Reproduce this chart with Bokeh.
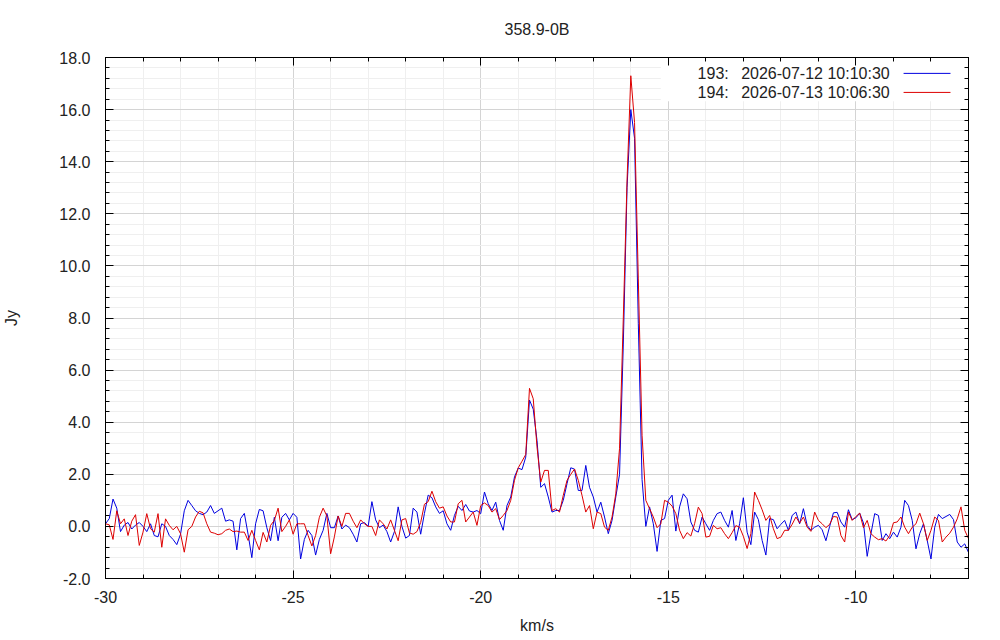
from bokeh.plotting import figure
from bokeh.models import (Range1d, SingleIntervalTicker, LinearAxis, PrintfTickFormatter,
                          Label, BoxAnnotation, Arrow, ColumnDataSource)
from bokeh.embed import file_html
from bokeh.resources import INLINE

# ---------------- data ----------------
title_text = "358.9-0B"
x_label = "km/s"
y_label = "Jy"
scan_ids = ["193:", "194:"]
scan_times = ["2026-07-12 10:10:30", "2026-07-13 10:06:30"]
series_colors = ["#0000e0", "#dd0000"]

v_start = -30.0   # first channel velocity (km/s)
v_step = 0.1      # channel spacing (km/s)

# flux density of scan 193 (Jy), one row per km/s starting at -30
flux_193 = [
    0.1, 0.3, 1.05, 0.7, -0.2, 0.05, 0.15, -0.1, 0.05, 0.15,
    0.0, -0.2, 0.1, -0.35, -0.4, 0.1, 0.0, -0.35, -0.5, -0.7,
    -0.3, 0.6, 1.0, 0.8, 0.6, 0.5, 0.45, 0.55, 0.8, 0.5,
    0.6, 0.7, 0.2, 0.25, 0.2, -0.9, 0.3, 0.5, -0.3, -1.2,
    0.1, 0.65, 0.6, -0.05, -0.55, 0.35, -0.55, 0.35, 0.5, 0.25,
    0.5, 0.35, -1.25, -0.5, -0.15, -0.35, -1.1, -0.5, -0.15, 0.5,
    -0.05, -0.05, 0.4, -0.1, 0.05, -0.05, -0.3, -0.6, 0.1, 0.15,
    0.0, 0.95, 0.25, -0.05, 0.05, -0.2, -0.6, -0.2, 0.75, 0.0,
    -0.45, -0.35, 0.7, 0.55, -0.3, 0.5, 1.2, 1.1, 0.75, 0.5,
    0.6, 0.1, -0.15, 0.42, 0.77, 0.61, 0.84, 0.59, 0.55, 0.61,
    0.49, 1.32, 0.87, 0.61, 0.93, 0.23, -0.15, 0.8, 1.13, 1.9,
    2.24, 2.18, 2.66, 4.85, 4.5, 3.3, 1.5, 1.64, 1.13, 0.55,
    0.61, 0.61, 1.0, 1.64, 2.25, 2.2, 1.38, 1.38, 2.34, 1.5,
    1.13, 0.55, 0.93, 0.36, -0.28, 0.23, 1.13, 2.0, 7.0, 13.0,
    16.0, 14.9, 7.8, 1.8, 0.0, 0.75, 0.1, -0.96, 0.23, 0.3,
    1.0, 1.2, -0.18, 0.75, 1.25, 1.06, 0.17, -0.15, -0.22, 0.36,
    0.1, -0.15, 0.23, 0.49, 0.55, 0.23, -0.03, 0.61, -0.54, 0.1,
    1.1, -0.22, -0.7, 0.55, 0.26, -0.54, -1.1, 0.3, 0.26, -0.09,
    0.08, 0.23, -0.15, 0.42, 0.55, 0.1, 0.68, 0.04, -0.15, -0.03,
    0.04, -0.13, -0.55, 0.0, 0.52, 0.54, 0.17, -0.03, 0.64, 0.26,
    0.33, 0.51, 0.13, -1.15, -0.28, 0.49, 0.42, -0.54, -0.28, -0.47,
    -0.22, -0.41, -0.03, 1.0, 0.8, 0.23, -0.86, -0.28, 0.1, -0.54,
    -1.25, -0.03, 0.46, 0.3, 0.38, 0.46, 0.26, -0.6, -0.8, -0.67,
    -1.0,
]

# flux density of scan 194 (Jy)
flux_194 = [
    0.1, 0.06, -0.5, 0.6, 0.1, 0.29, -0.35, 0.2, 0.45, -0.73,
    -0.22, 0.49, -0.09, -0.22, 0.49, -0.8, 0.29, 0.04, -0.13, 0.0,
    -0.28, -0.99, -0.13, 0.0, 0.36, 0.58, 0.52, 0.1, -0.22, -0.26,
    -0.32, -0.28, -0.15, -0.1, -0.2, -0.18, -0.22, -0.22, -0.54, -0.15,
    -0.54, -0.9, -0.23, -0.6, 0.04, 0.23, 0.7, -0.2, 0.0, 0.25,
    -0.3, 0.1, 0.1, 0.1, -0.35, -0.75, -0.35, 0.35, 0.7, 0.4,
    -1.05, -0.4, 0.4, 0.0, 0.5, 0.5, 0.2, -0.05, 0.25, 0.1,
    0.0, 0.0, -0.35, 0.25, 0.1, -0.1, 0.25, -0.15, -0.55, 0.25,
    0.3, -0.25, -0.3, -0.2, 0.15, 0.85, 0.95, 1.35, 0.95, 0.7,
    0.75, 0.4, 0.17, 0.17, 0.87, 1.0, 0.17, 0.36, 0.55, 0.04,
    0.8, 0.9, 0.8, 0.55, 0.68, 0.26, 0.42, 0.61, 1.0, 1.77,
    2.25, 2.5, 2.76, 5.3, 4.9, 3.05, 1.7, 2.15, 2.15, 0.61,
    0.68, 0.55, 1.19, 1.77, 2.0, 2.2, 1.77, 1.19, 0.55, 0.8,
    -0.09, 0.55, 0.49, -0.03, -0.15, 0.36, 1.25, 3.0, 8.0, 13.3,
    17.3, 15.5, 9.5, 3.5, 1.0, 0.68, 0.36, -0.05, 0.1, 1.0,
    0.93, 0.78, 0.49, -0.15, -0.47, -0.24, -0.37, 0.1, 0.74, 0.49,
    -0.41, -0.38, 0.04, -0.09, -0.05, -0.28, -0.47, -0.24, 0.03, -0.03,
    -0.38, -0.85, -0.28, 1.32, 1.0, 0.64, 0.23, 0.42, -0.09, -0.47,
    -0.41, -0.15, -0.15, 0.08, 0.36, 0.13, 0.36, -0.03, -0.19, 0.55,
    0.23, 0.1, -0.05, 0.08, 0.38, 0.36, -0.35, -0.6, 0.55, 0.23,
    0.38, 0.51, -0.05, 0.23, -0.28, -0.41, -0.51, -0.47, -0.56, -0.35,
    0.14, 0.17, 0.36, -0.03, -0.28, -0.03, 0.1, 0.51, 0.1, -0.54,
    -0.15, 0.36, 0.23, -0.6, -0.41, -0.26, -0.03, 0.29, 0.75, -0.15,
    -0.47,
]

velocity = [round(v_start + v_step * i, 3) for i in range(len(flux_193))]

x_min, x_max = -30.0, -7.0
y_min, y_max = -2.0, 18.0

FONT = "Liberation Sans"
FS = "16px"
TXT = "#222222"

# ---------------- figure ----------------
p = figure(width=992, height=636, output_backend="svg", toolbar_location=None,
           x_range=Range1d(x_min, x_max), y_range=Range1d(y_min, y_max),
           min_border_left=105, min_border_right=24, min_border_top=57, min_border_bottom=58,
           x_axis_label=x_label, y_axis_label=y_label, title=title_text)

p.background_fill_color = "white"
p.border_fill_color = "white"
p.outline_line_color = "black"
p.outline_line_width = 1

p.title.align = "center"
p.title.vertical_align = "top"
p.title.text_font = FONT
p.title.text_font_size = FS
p.title.text_font_style = "normal"
p.title.text_color = TXT
p.title.standoff = 36

xt = SingleIntervalTicker(interval=5, num_minor_ticks=5)
yt = SingleIntervalTicker(interval=2, num_minor_ticks=5)

def style_axis(ax, ticker, fmt, show_labels):
    ax.ticker = ticker
    ax.formatter = PrintfTickFormatter(format=fmt)
    ax.axis_line_color = "black"
    ax.major_tick_line_color = "black"
    ax.minor_tick_line_color = "black"
    ax.major_tick_in = 8
    ax.major_tick_out = 0
    ax.minor_tick_in = 4
    ax.minor_tick_out = 0
    ax.major_label_text_font = FONT
    ax.axis_label_text_font = FONT
    ax.axis_label_text_font_style = "normal"
    ax.axis_label_text_color = TXT
    ax.axis_label_text_font_size = FS
    if show_labels:
        ax.major_label_text_font_size = FS
        ax.major_label_text_color = TXT
    else:
        ax.major_label_text_font_size = "1px"
        ax.major_label_text_color = None
        ax.major_label_standoff = 0

style_axis(p.xaxis[0], xt, "%d", True)
style_axis(p.yaxis[0], yt, "%.1f", True)
p.xaxis[0].major_label_standoff = 12
p.xaxis[0].axis_label_standoff = 11
p.yaxis[0].major_label_standoff = 15
p.yaxis[0].axis_label_standoff = 36

top_ax = LinearAxis()
style_axis(top_ax, SingleIntervalTicker(interval=5, num_minor_ticks=5), "%d", False)
p.add_layout(top_ax, "above")
right_ax = LinearAxis()
style_axis(right_ax, SingleIntervalTicker(interval=2, num_minor_ticks=5), "%.1f", False)
p.add_layout(right_ax, "right")

for g in (p.xgrid[0], p.ygrid[0]):
    g.grid_line_color = "#d4d4d4"
    g.grid_line_width = 1
    g.minor_grid_line_color = "#efefef"
    g.minor_grid_line_width = 1

# white key background (hides grid under the key)
key_bg = BoxAnnotation(left=-15.2, right=-7.03, bottom=16.32, top=17.97,
                       fill_color="white", fill_alpha=1.0, line_color=None, level="underlay")
p.add_layout(key_bg)

# ---------------- data lines ----------------
src = ColumnDataSource(data=dict(v=velocity, s193=flux_193, s194=flux_194))
p.line("v", "s193", source=src, line_color=series_colors[0], line_width=1)
p.line("v", "s194", source=src, line_color=series_colors[1], line_width=1)

# ---------------- key ----------------
key_rows_y = [17.39, 16.66]
for i in range(2):
    yy = key_rows_y[i]
    p.add_layout(Label(x=-14.22, y=yy, text=scan_ids[i], text_align="left", text_baseline="middle",
                       text_font=FONT, text_font_size=FS, text_color=TXT))
    p.add_layout(Label(x=-9.10, y=yy, text=scan_times[i], text_align="right", text_baseline="middle",
                       text_font=FONT, text_font_size=FS, text_color=TXT))
    p.add_layout(Arrow(end=None, start=None, x_start=-8.73, y_start=yy, x_end=-7.48, y_end=yy,
                       line_color=series_colors[i], line_width=1))

open("out.html", "w").write(file_html(p, INLINE))
